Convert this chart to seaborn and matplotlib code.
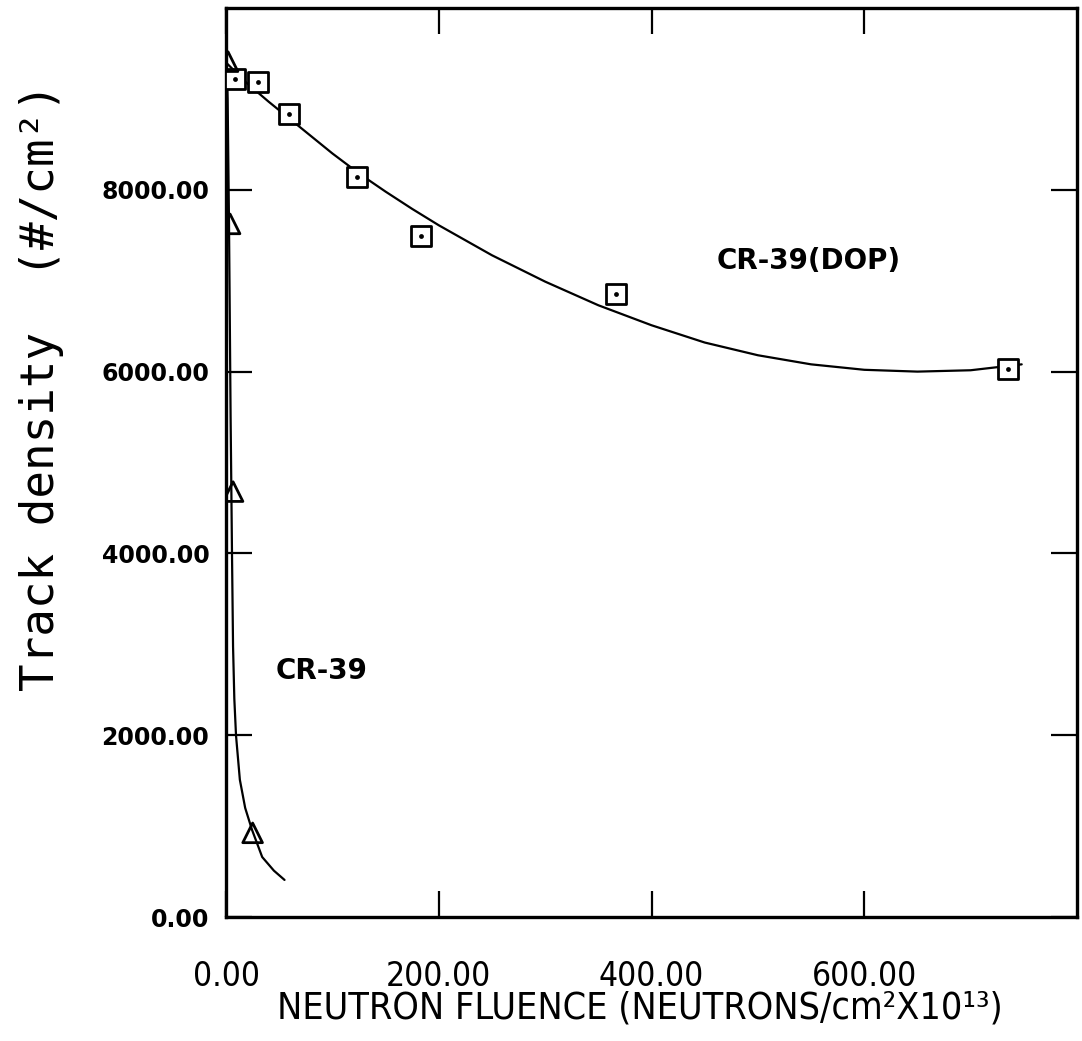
import numpy as np
import pandas as pd
import matplotlib
matplotlib.use("Agg")
import matplotlib.pyplot as plt
import seaborn as sns

dop_x = [8.5, 30, 59, 123, 183, 367, 735]
dop_y = [9222, 9190, 8837, 8143, 7493, 6854, 6028]
cr_x = [1.9, 3.8, 6.6, 25]
cr_y = [9410, 7625, 4680, 926]

# curvas de ajuste (leidas a ojo)
dop_fit_x = [0, 20, 40, 60, 80, 100, 125, 150, 175, 200, 250, 300, 350, 400, 450, 500, 550, 600, 650, 700, 748]
dop_fit_y = [9400, 9170, 8970, 8780, 8590, 8400, 8180, 7980, 7790, 7610, 7280, 6990, 6730, 6510, 6320, 6180, 6080, 6020, 6000, 6015, 6080]
cr_fit_x = [0.3, 1.5, 2.8, 3.6, 4.3, 5.0, 5.6, 6.6, 7.8, 9.4, 13, 18, 24.4, 34, 45, 55]
cr_fit_y = [9550, 9000, 7625, 6500, 5500, 4700, 4011, 2975, 2400, 1995, 1510, 1200, 960, 660, 510, 408]

xticks = [0, 200, 400, 600]
xticklabels = ["0.00", "200.00", "400.00", "600.00"]
yticks = [0, 2000, 4000, 6000, 8000]
yticklabels = ["0.00", "2000.00", "4000.00", "6000.00", "8000.00"]

sns.set_style("ticks")
plt.rcParams["text.color"] = "black"
plt.rcParams["axes.labelcolor"] = "black"

fig = plt.figure(figsize=(10.82, 10.41), dpi=100)
ax = fig.add_axes([0.2089, 0.1191, 0.9954 - 0.2089, 0.9923 - 0.1191])

dfit = pd.DataFrame({"x": dop_fit_x, "y": dop_fit_y})
cfit = pd.DataFrame({"x": cr_fit_x, "y": cr_fit_y})
sns.lineplot(data=dfit, x="x", y="y", ax=ax, color="black", lw=1.6, sort=False, estimator=None)
sns.lineplot(data=cfit, x="x", y="y", ax=ax, color="black", lw=1.6, sort=False, estimator=None)

dpts = pd.DataFrame({"x": dop_x, "y": dop_y})
cpts = pd.DataFrame({"x": cr_x, "y": cr_y})
sns.scatterplot(data=dpts, x="x", y="y", ax=ax, marker="s", s=200, facecolor="white",
                edgecolor="black", linewidth=2, zorder=3)
sns.scatterplot(data=dpts, x="x", y="y", ax=ax, marker="o", s=12, color="black",
                linewidth=0, zorder=4)
sns.scatterplot(data=cpts, x="x", y="y", ax=ax, marker="^", s=200, facecolor="none",
                edgecolor="black", linewidth=2, zorder=3)

ax.text(461, 7218, "CR-39(DOP)", fontsize=20, fontweight="bold", va="center", ha="left",
        family="DejaVu Sans")
ax.text(47, 2711, "CR-39", fontsize=20, fontweight="bold", va="center", ha="left",
        family="DejaVu Sans")

ax.set_xlim(0, 800)
ax.set_ylim(0, 10000)
ax.set_xticks(xticks)
ax.set_xticklabels(xticklabels, family="DejaVu Sans", fontstretch="condensed", fontsize=24)
ax.set_yticks(yticks)
ax.set_yticklabels(yticklabels, fontsize=17, fontweight="bold", family="DejaVu Sans")
ax.tick_params(direction="in", length=19, width=1.6, top=True, right=True, colors="black")
ax.tick_params(axis="y", pad=12)
ax.tick_params(axis="x", pad=31)

for s in ax.spines.values():
    s.set_linewidth(2.4)
    s.set_color("black")
    s.set_visible(True)

ax.set_xlabel("NEUTRON FLUENCE (NEUTRONS/cm²X10¹³)", family="DejaVu Sans",
              fontstretch="condensed", fontsize=27, va="top")
ax.xaxis.set_label_coords(0.4865, -0.081)
ax.set_ylabel("Track density  (#/cm²)", family="DejaVu Sans Mono", fontsize=33, va="bottom")
ax.yaxis.set_label_coords(-0.19, 0.583)

fig.savefig("out.png", dpi=100)
